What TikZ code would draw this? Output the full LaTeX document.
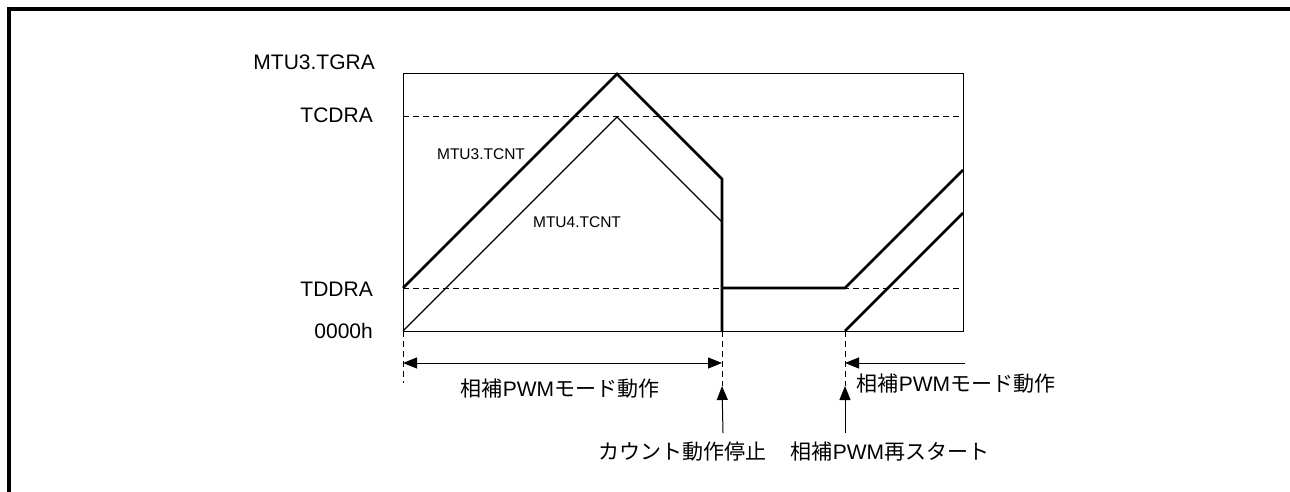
\documentclass[tikz,border=0pt]{standalone}
\usepackage{fontspec}
\setmainfont{Liberation Sans}
\newfontfamily\cjk{Noto Sans CJK JP}
\usetikzlibrary{arrows.meta}
\begin{document}
\begin{tikzpicture}[x=1pt,y=-1pt,
  thinl/.style={line width=1pt},
  thickl/.style={line width=2.6pt, line join=miter},
  dashl/.style={line width=1pt, dash pattern=on 6pt off 4pt},
  lbl/.style={font=\fontsize{21}{24}\selectfont, inner sep=0pt},
  small/.style={font=\fontsize{15.5}{18}\selectfont, inner sep=0pt},
  jp/.style={font=\fontsize{21}{24}\selectfont\cjk, inner sep=0pt},
  tip/.tip={Triangle[length=14pt,width=11pt]},
  arr/.style={-tip, line width=1pt}]
\useasboundingbox (0,0) rectangle (1290,492);
% frame
\draw[line width=3.5pt] (9,492) -- (9,9) -- (1290,9);
% axis labels
\node[lbl, anchor=east] (tgra) at (375,62) {MTU3.TGRA};
\node[lbl, anchor=east] (tcdra) at (373,115) {TCDRA};
\node[lbl, anchor=east] (tddra) at (373,289) {TDDRA};
\node[lbl, anchor=east] (zero) at (373,331) {0000h};
% plot box
\coordinate (bl) at (403,331);
\coordinate (tr) at (963,74);
\draw[thinl] (bl) rectangle (tr);
\coordinate (cdl) at (403,117); \coordinate (cdr) at (963,117);
\coordinate (ddl) at (403,288); \coordinate (ddr) at (963,288);
\draw[dashl] (cdl) -- (cdr);
\draw[dashl] (ddl) -- (ddr);
% key points
\coordinate (p3) at (617,74);
\coordinate (s3) at (722,179);
\coordinate (stopB) at (722,331);
\coordinate (stopD) at (722,288);
\coordinate (reD) at (845,288);
\coordinate (reB) at (845,331);
\coordinate (e3) at (963,170);
\coordinate (e4) at (963,213);
\coordinate (p4) at (617,117);
\coordinate (s4) at (722,222);
% MTU3.TCNT
\draw[thickl] (ddl) -- (p3) -- (s3) -- (stopB);
\draw[thickl] (stopD) -- (reD) -- (e3);
% MTU4.TCNT
\draw[line width=1.1pt] (bl) -- (p4) -- (s4);
\draw[thickl] (reB) -- (e4);
\node[small] (m3) at (481,154) {MTU3.TCNT};
\node[small] (m4) at (577,222) {MTU4.TCNT};
% markers
\coordinate (v1) at (403,383);
\coordinate (v2) at (722,386);
\coordinate (v3) at (845,386);
\draw[dashl] (bl) -- (v1);
\draw[dashl] (stopB) -- (v2);
\draw[dashl] (reB) -- (v3);
\coordinate (a1) at (403,363);
\coordinate (a2) at (722,363);
\coordinate (a3) at (965,363);
\coordinate (a4) at (845,363);
\draw[line width=1pt, tip-tip] (a1) -- (a2);
\draw[arr] (a3) -- (a4);
\node[jp] (mode1) at (560,389) {相補{\rmfamily PWM}モード動作};
\node[jp] (mode2) at (956,384) {相補{\rmfamily PWM}モード動作};
\node[jp] (stop) at (682,452) {カウント動作停止};
\node[jp] (restart) at (890,452) {相補{\rmfamily PWM}再スタート};
\coordinate (u1) at (723,433);
\coordinate (u2) at (845,433);
\draw[arr] (u1) -- (v2);
\draw[arr] (u2) -- (v3);
\end{tikzpicture}
\end{document}
